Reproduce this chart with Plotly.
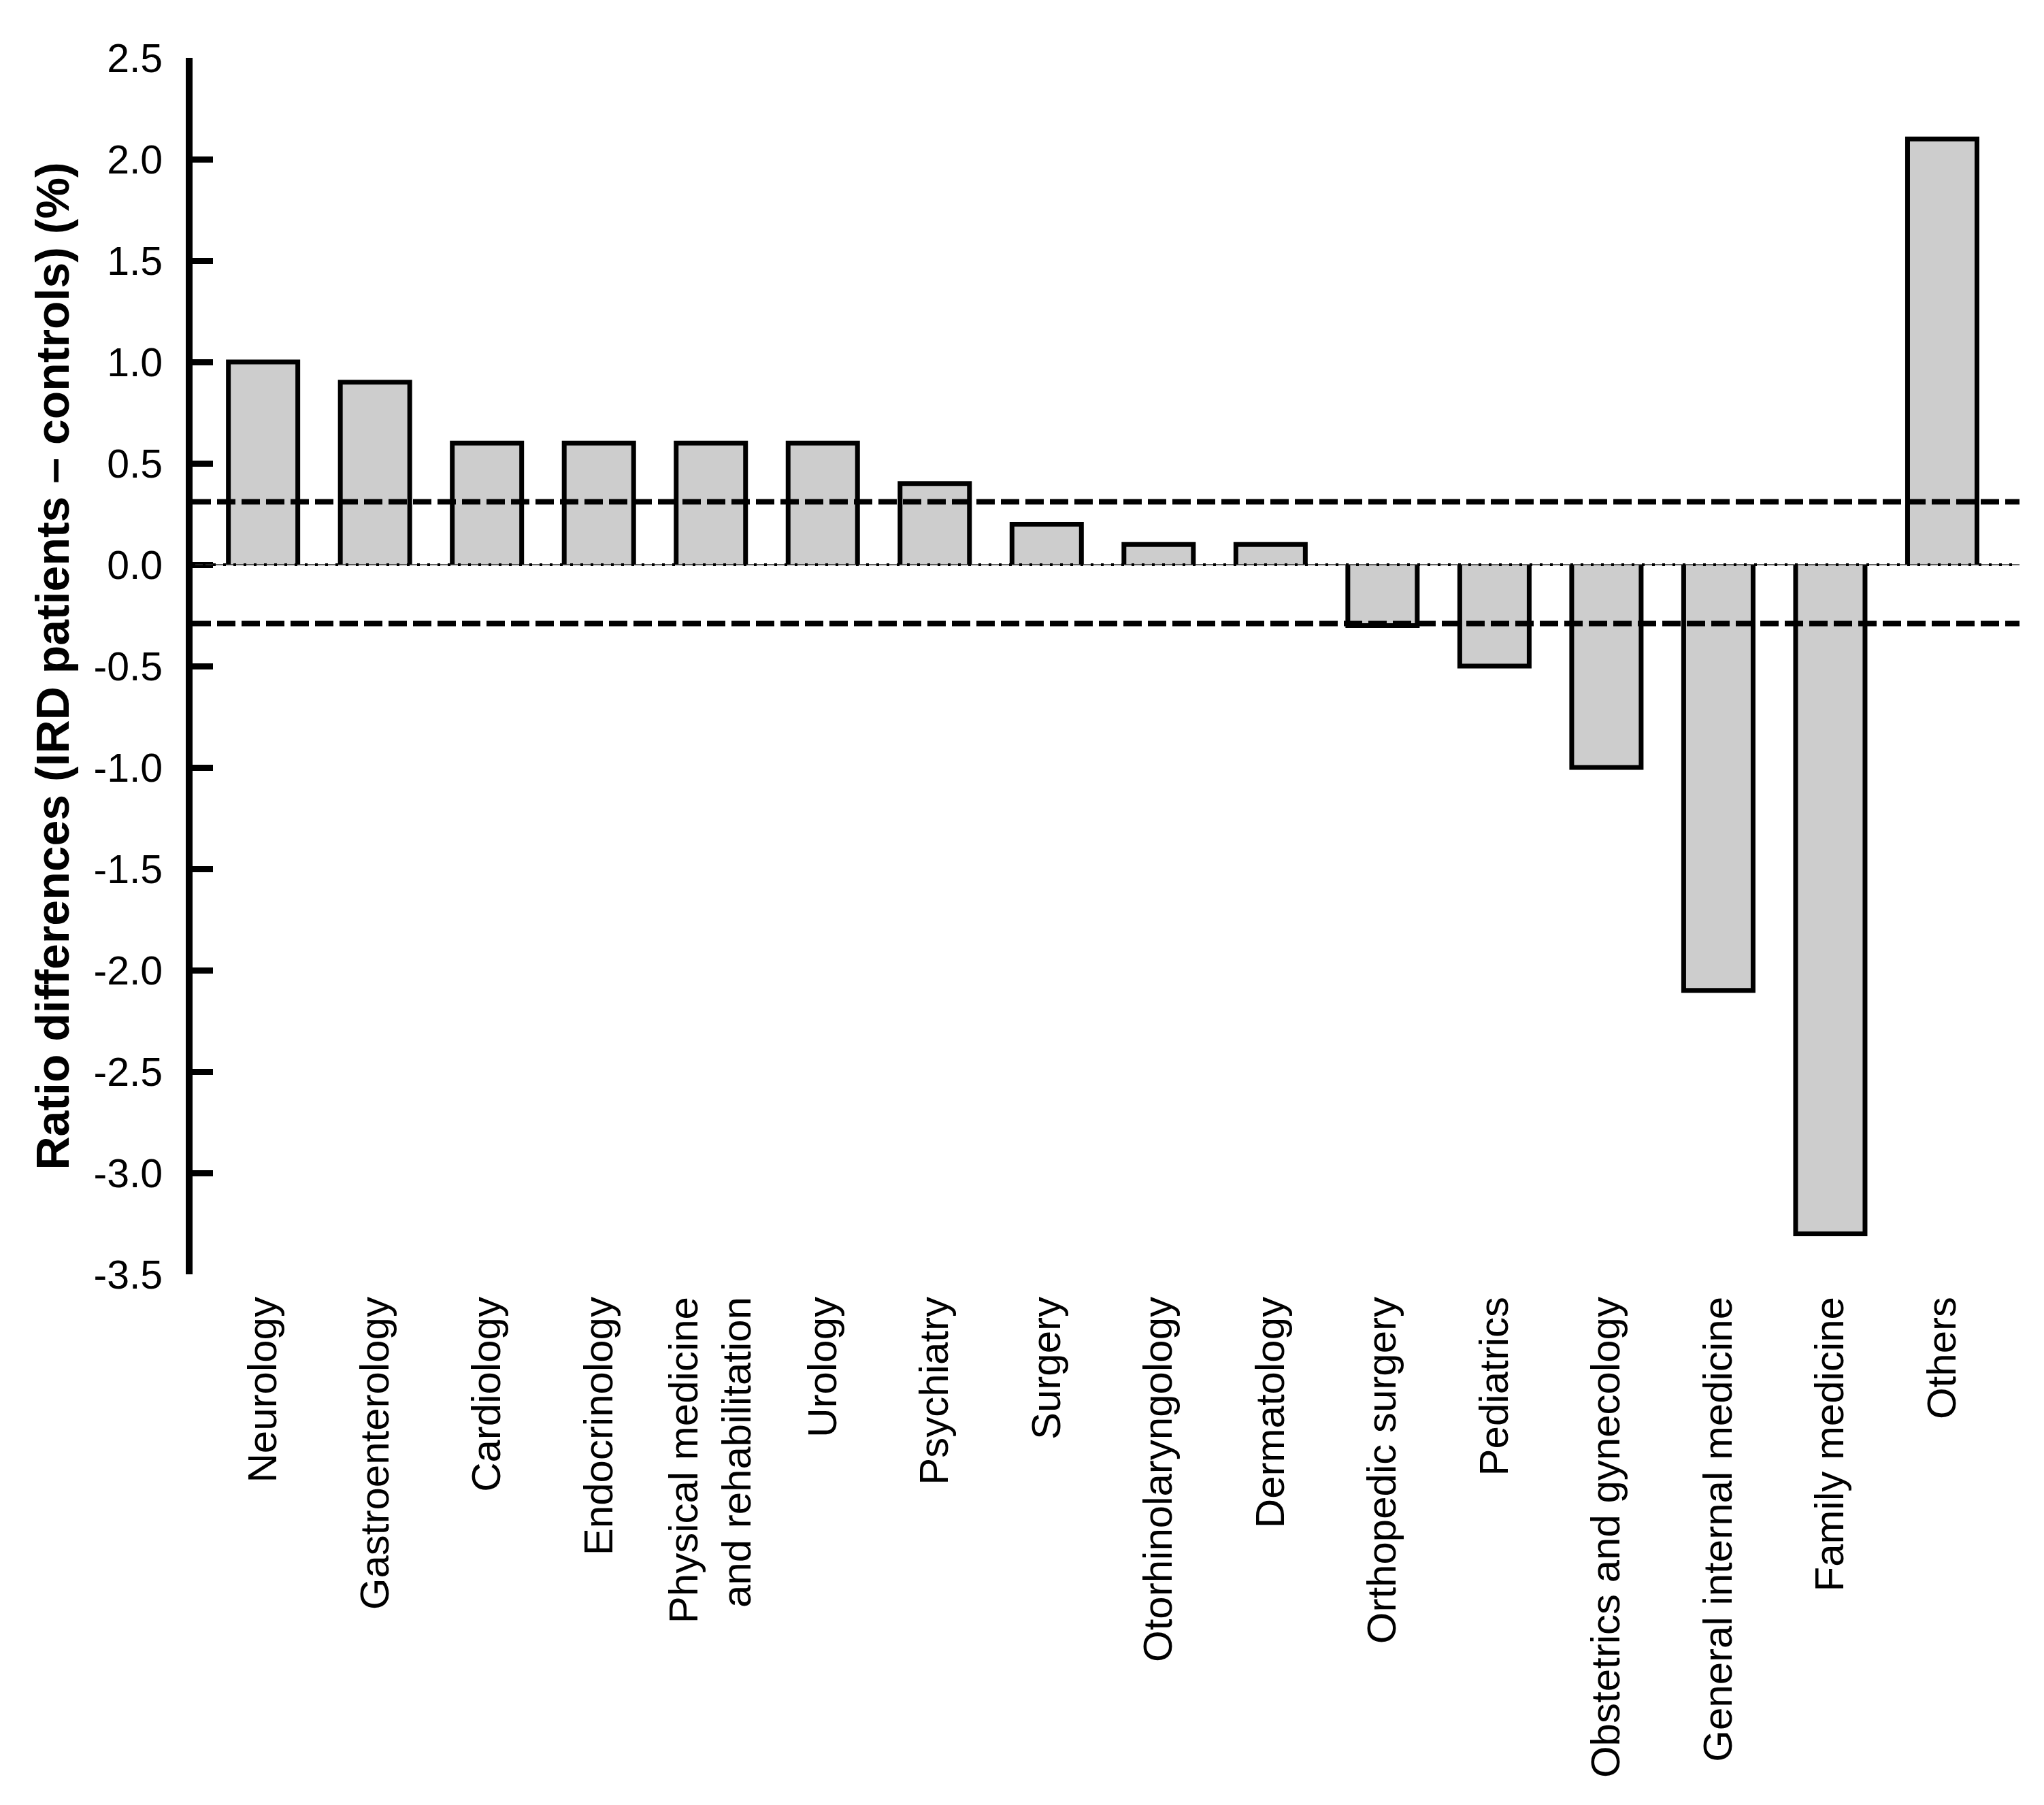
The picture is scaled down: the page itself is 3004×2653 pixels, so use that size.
import plotly.graph_objects as go

categories = [
    "Neurology", "Gastroenterology", "Cardiology", "Endocrinology",
    "Physical medicine<br>and rehabilitation", "Urology", "Psychiatry", "Surgery",
    "Otorhinolaryngology", "Dermatology", "Orthopedic surgery", "Pediatrics",
    "Obstetrics and gynecology", "General internal medicine", "Family medicine", "Others",
]
values = [1.0, 0.9, 0.6, 0.6, 0.6, 0.6, 0.4, 0.2, 0.1, 0.1, -0.3, -0.5, -1.0, -2.1, -3.3, 2.1]
upper_limit = 0.31
lower_limit = -0.29
y_tick_values = [2.5, 2.0, 1.5, 1.0, 0.5, 0.0, -0.5, -1.0, -1.5, -2.0, -2.5, -3.0, -3.5]
y_tick_labels = ["2.5", "2.0", "1.5", "1.0", "0.5", "0.0", "-0.5", "-1.0", "-1.5", "-2.0", "-2.5", "-3.0", "-3.5"]
y_title = "Ratio differences (IRD patients \u2013 controls) (%)"

FONT = "Liberation Sans, Arial, sans-serif"
BAR_W = 0.62
positions = list(range(len(categories)))

# three-sided outline (no edge on the zero line), derived from the data
ox, oy = [], []
for p, v in zip(positions, values):
    ox += [p - BAR_W / 2, p - BAR_W / 2, p + BAR_W / 2, p + BAR_W / 2, None]
    oy += [0, v, v, 0, None]

fig = go.Figure()
fig.add_trace(go.Bar(
    x=positions, y=values, width=BAR_W,
    marker=dict(color="#cdcdcd", line=dict(width=0)),
    showlegend=False, hoverinfo="skip",
))
fig.add_trace(go.Scatter(
    x=ox, y=oy, mode="lines",
    line=dict(color="black", width=7),
    showlegend=False, hoverinfo="skip",
))

for yv in (upper_limit, lower_limit):
    fig.add_shape(type="line", xref="paper", x0=0, x1=1, yref="y", y0=yv, y1=yv,
                  line=dict(color="black", width=8, dash="27px,9px"), layer="above")
# zero reference: thin line with dots
fig.add_shape(type="line", xref="paper", x0=0, x1=1, yref="y", y0=0, y1=0,
              line=dict(color="#333333", width=1.5), layer="above")
fig.add_shape(type="line", xref="paper", x0=0, x1=1, yref="y", y0=0, y1=0,
              line=dict(color="black", width=4, dash="4px,11px"), layer="above")

fig.update_layout(
    width=3004, height=2653,
    margin=dict(l=275, r=44, t=77, b=788),
    plot_bgcolor="white", paper_bgcolor="white",
    font=dict(family=FONT, size=59, color="black"),
    bargap=0,
)
fig.update_xaxes(
    range=[-0.63, 15.69],
    tickmode="array", tickvals=positions, ticktext=categories,
    tickangle=-90, ticks="", showline=False, showgrid=False, zeroline=False,
    tickfont=dict(family=FONT, size=60, color="black"),
    ticklabelstandoff=20,
)
fig.update_yaxes(
    range=[-3.5, 2.5],
    tickmode="array", tickvals=y_tick_values, ticktext=y_tick_labels,
    ticks="inside", ticklen=30, tickwidth=9, tickcolor="black",
    showline=True, linewidth=10, linecolor="black",
    showgrid=False, zeroline=False,
    tickfont=dict(family=FONT, size=59, color="black"),
    ticklabelstandoff=22,
    title=dict(text=y_title, font=dict(family=FONT, size=68, color="black", weight="bold"), standoff=18),
)

fig.write_html("out.html")
